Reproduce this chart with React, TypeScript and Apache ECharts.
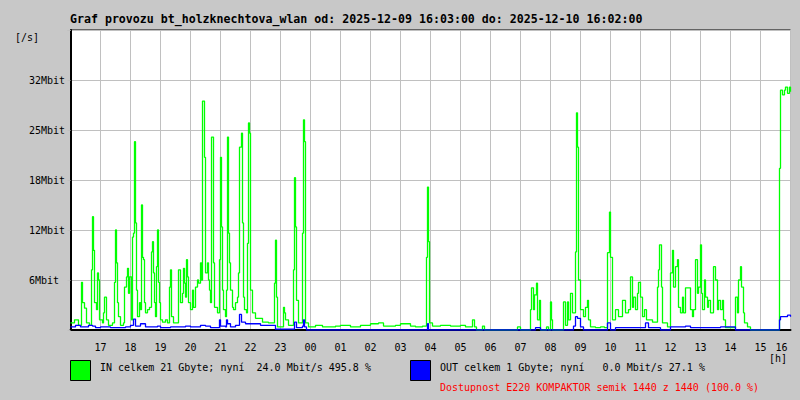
import React, { useEffect, useRef } from "react";
import * as echarts from "echarts";

// time: minutes since 2025-12-09 16:00, value: Mbit/s
const titleText =
  "Graf provozu bt_holzknechtova_wlan od: 2025-12-09 16:03:00 do: 2025-12-10 16:02:00";
const xTickLabels = ["", "17", "18", "19", "20", "21", "22", "23", "00", "01", "02", "03", "04", "05", "06", "07", "08", "09", "10", "11", "12", "13", "14", "15", "16"];
const yTickLabels = ["", "6Mbit", "12Mbit", "18Mbit", "25Mbit", "32Mbit", ""];
const legendIn = "IN celkem 21 Gbyte; nyní  24.0 Mbit/s 495.8 %";
const legendOut = "OUT celkem 1 Gbyte; nyní   0.0 Mbit/s 27.1 %";
const availability = "Dostupnost E220 KOMPAKTOR semik 1440 z 1440 (100.0 %)";

const inTraffic: [number, number][] = [
  [0, 0.9], [8, 1.3], [16, 0.6], [22, 6.1], [24, 3.5], [28, 2.8], [32, 0.9], [38, 0.6],
  [42, 7.7], [44, 14.5], [46, 10.2], [48, 3.5], [52, 2.6], [54, 7.3], [56, 6.4], [58, 1.3],
  [64, 0.9], [66, 2.2], [68, 4.2], [72, 1.3], [76, 0.6], [84, 0.9], [88, 6.1], [90, 12.8],
  [92, 8.6], [94, 3.5], [96, 1.7], [100, 0.6], [106, 0.9], [108, 5.5], [112, 6.8], [114, 7.9],
  [116, 4.7], [118, 6.8], [122, 1.3], [124, 11.9], [126, 12.4], [128, 24.1], [130, 13.7],
  [132, 5.1], [134, 1.7], [138, 3.5], [140, 2.6], [142, 16.0], [144, 9.3], [146, 9.0],
  [148, 3.5], [150, 2.2], [154, 2.6], [158, 2.9], [162, 10.0], [164, 11.3], [166, 7.3],
  [168, 3.5], [170, 1.7], [172, 8.1], [174, 12.8], [176, 6.1], [178, 3.5], [180, 1.3],
  [184, 1.0], [190, 1.3], [194, 0.9], [198, 5.5], [200, 7.7], [202, 1.7], [206, 0.9],
  [214, 0.9], [216, 7.7], [220, 3.5], [224, 4.7], [226, 7.9], [228, 6.0], [230, 4.2],
  [232, 9.0], [234, 6.8], [236, 3.5], [240, 2.6], [244, 5.1], [246, 2.9], [250, 5.5],
  [254, 6.4], [256, 6.0], [260, 8.6], [262, 6.4], [264, 29.3], [266, 29.3], [268, 22.1],
  [270, 7.3], [274, 8.6], [276, 6.4], [278, 5.1], [280, 3.5], [282, 24.7], [284, 24.7],
  [286, 8.6], [288, 2.9], [294, 2.2], [298, 9.0], [300, 22.1], [302, 13.2], [304, 5.1],
  [306, 2.6], [310, 1.7], [312, 5.1], [314, 24.7], [316, 12.4], [318, 8.6], [320, 5.1],
  [324, 2.9], [326, 2.6], [330, 3.5], [334, 4.2], [336, 7.3], [338, 23.4], [342, 25.2],
  [344, 13.7], [346, 4.2], [348, 2.6], [352, 2.2], [354, 11.1], [356, 26.5], [358, 25.2],
  [360, 5.1], [364, 2.2], [370, 1.5], [384, 1.0], [396, 0.9], [404, 0.9], [408, 6.0],
  [410, 11.5], [412, 4.2], [414, 0.4], [420, 0.4], [426, 2.9], [428, 2.2], [430, 1.3],
  [436, 0.6], [444, 0.6], [446, 7.7], [448, 19.5], [450, 13.2], [452, 3.8], [456, 0.9],
  [462, 0.9], [464, 12.4], [466, 26.9], [468, 24.1], [470, 0.9], [476, 0.4], [490, 0.6],
  [504, 0.4], [510, 0.4], [530, 0.5], [540, 0.6], [560, 0.4], [580, 0.6], [600, 0.8],
  [616, 0.9], [626, 0.5], [650, 0.6], [660, 0.8], [680, 0.5], [690, 0.4], [704, 0.5],
  [710, 0.5], [712, 9.3], [714, 18.3], [716, 11.3], [718, 0.9], [724, 0.5], [740, 0.6],
  [760, 0.5], [780, 0.6], [790, 0.4], [804, 1.3], [808, 0.4], [812, 0], [824, 0.5], [828, 0],
  [892, 0], [894, 0.4], [900, 0], [918, 0], [920, 2.6], [922, 5.4], [926, 2.6], [928, 4.5],
  [932, 6.0], [934, 1.3], [938, 3.8], [940, 0], [952, 0.4], [956, 0], [960, 3.6], [962, 1.3],
  [964, 0], [984, 0], [986, 3.6], [990, 0.6], [994, 3.6], [996, 1.3], [1000, 4.7],
  [1004, 2.2], [1010, 10.0], [1012, 27.8], [1014, 23.4], [1016, 6.4], [1020, 2.6],
  [1026, 1.7], [1030, 2.9], [1034, 3.8], [1036, 1.3], [1040, 0.4], [1050, 0.3], [1060, 0.4],
  [1068, 0.3], [1074, 9.9], [1078, 15.1], [1080, 9.3], [1084, 1.3], [1090, 2.6], [1096, 1.7],
  [1104, 3.8], [1110, 2.2], [1116, 2.6], [1120, 6.8], [1124, 2.9], [1126, 4.2], [1130, 2.6],
  [1134, 4.7], [1136, 6.1], [1140, 4.2], [1144, 1.7], [1148, 2.6], [1152, 1.3], [1164, 1.0],
  [1170, 1.0], [1174, 5.5], [1176, 7.7], [1178, 10.9], [1182, 5.5], [1184, 0.9], [1194, 0.4],
  [1200, 7.3], [1204, 10.2], [1206, 5.5], [1210, 8.1], [1214, 9.0], [1216, 2.9], [1220, 2.2],
  [1224, 4.2], [1226, 2.2], [1230, 5.4], [1236, 5.4], [1240, 2.6], [1244, 1.7], [1246, 2.6],
  [1250, 9.0], [1254, 4.7], [1256, 5.5], [1260, 10.9], [1262, 4.7], [1264, 2.6], [1268, 6.4],
  [1270, 4.2], [1274, 2.9], [1276, 3.8], [1280, 2.2], [1286, 8.1], [1290, 6.4], [1294, 2.6],
  [1296, 3.8], [1300, 2.6], [1304, 3.8], [1306, 1.3], [1310, 0.3], [1326, 0.3], [1330, 4.2],
  [1334, 2.2], [1336, 6.4], [1340, 8.1], [1342, 5.5], [1346, 2.2], [1348, 0.9], [1354, 0.4],
  [1360, 0], [1416, 0], [1418, 20.7], [1420, 30.7], [1424, 30.1], [1428, 30.7], [1430, 31.1],
  [1434, 30.3], [1438, 31.1], [1440, 30.5],
];

const outTraffic: [number, number][] = [
  [0, 0.4], [10, 0.6], [20, 0.4], [36, 0.6], [44, 0.5], [50, 0.3], [60, 0.4], [80, 0.3],
  [110, 0.4], [120, 0.6], [126, 1.4], [130, 0.5], [140, 0.8], [150, 0.4], [174, 0.5],
  [180, 0.3], [200, 0.4], [230, 0.5], [240, 0.4], [260, 0.6], [270, 0.5], [280, 0.3],
  [296, 0.3], [298, 1.3], [300, 0.5], [310, 0.4], [312, 1.3], [314, 0.8], [320, 0.4],
  [330, 0.6], [338, 2.0], [342, 1.0], [350, 0.8], [380, 0.6], [400, 0.6], [406, 0.6],
  [410, 0.1], [430, 0.1], [448, 1.0], [452, 0.3], [464, 0.5], [466, 1.3], [468, 0.4],
  [472, 0], [712, 0], [714, 0.8], [716, 0], [920, 0], [930, 0.3], [940, 0], [1006, 0.5],
  [1010, 1.7], [1014, 1.5], [1020, 0.4], [1026, 0], [1072, 0], [1074, 0.9], [1078, 0.9],
  [1080, 0], [1090, 0.3], [1140, 0.3], [1150, 0.9], [1156, 0.3], [1174, 0.3], [1180, 0],
  [1200, 0.4], [1230, 0.5], [1240, 0.3], [1300, 0.4], [1320, 0.4], [1330, 0], [1416, 0],
  [1418, 1.3], [1420, 1.7], [1430, 1.7], [1434, 1.9], [1440, 1.7],
];

const MONO = "'DejaVu Sans Mono', 'Liberation Mono', monospace";
const BG = "#c8c8c8";
const GRID = "#c0c0c0";

export default function App() {
  const ref = useRef<HTMLDivElement>(null);

  useEffect(() => {
    if (!ref.current) return;
    const chart = echarts.init(ref.current, null, { renderer: "svg" });
    const step = 6.4;
    chart.setOption({
      animation: false,
      backgroundColor: BG,
      grid: {
        left: 70.5,
        right: 9.5,
        top: 30,
        bottom: 70,
        show: true,
        backgroundColor: "#ffffff",
        borderColor: "#000000",
        borderWidth: 1,
      },
      xAxis: {
        type: "value",
        min: 0,
        max: 1440,
        interval: 60,
        axisLine: { show: true, lineStyle: { color: "#000", width: 2 } },
        axisTick: { show: false },
        splitLine: { show: true, lineStyle: { color: GRID, width: 1 } },
        axisLabel: {
          show: true,
          showMinLabel: true,
          showMaxLabel: true,
          margin: 12,
          color: "#000",
          fontFamily: MONO,
          fontSize: 10,
          formatter: (v: number) => {
            const i = Math.round(v / 60);
            const t = xTickLabels[i] ?? "";
            if (i === xTickLabels.length - 1) return "{last|" + t + "}";
            return t;
          },
          rich: {
            last: { padding: [0, 18, 0, 0], fontFamily: MONO, fontSize: 10, color: "#000" },
          },
        },
      },
      yAxis: {
        type: "value",
        min: 0,
        max: step * 6,
        interval: step,
        axisLine: { show: true, lineStyle: { color: "#000", width: 2 } },
        axisTick: { show: true, length: 3, lineStyle: { color: GRID } },
        splitLine: { show: true, lineStyle: { color: GRID, width: 1 } },
        axisLabel: {
          show: true,
          align: "left",
          margin: 41.5,
          color: "#000",
          fontFamily: MONO,
          fontSize: 10,
          formatter: (v: number) => yTickLabels[Math.round(v / step)] ?? "",
        },
      },
      series: [
        {
          type: "line",
          name: "IN",
          data: inTraffic,
          step: "end",
          symbol: "none",
          lineStyle: { color: "#00ff00", width: 1.3 },
          itemStyle: { color: "#00ff00" },
        },
        {
          type: "line",
          name: "OUT",
          data: outTraffic,
          step: "end",
          symbol: "none",
          lineStyle: { color: "#0000ff", width: 1.3 },
          itemStyle: { color: "#0000ff" },
        },
      ],
      graphic: [
        {
          type: "text",
          x: 70,
          y: 19,
          style: {
            text: titleText,
            fill: "#000",
            font: "bold 11.6px " + MONO,
            verticalAlign: "middle",
            align: "left",
          },
        },
        {
          type: "text",
          x: 15,
          y: 37,
          style: { text: "[/s]", fill: "#000", font: "10px " + MONO, verticalAlign: "middle" },
        },
        {
          type: "text",
          x: 769,
          y: 358,
          style: { text: "[h]", fill: "#000", font: "10px " + MONO, verticalAlign: "middle" },
        },
        {
          type: "rect",
          shape: { x: 70.5, y: 360.5, width: 20, height: 20 },
          style: { fill: "#00ff00", stroke: "#000", lineWidth: 1 },
        },
        {
          type: "rect",
          shape: { x: 410.5, y: 360.5, width: 20, height: 20 },
          style: { fill: "#0000ff", stroke: "#000", lineWidth: 1 },
        },
        {
          type: "text",
          x: 100,
          y: 367,
          style: { text: legendIn, fill: "#000", font: "10px " + MONO, verticalAlign: "middle" },
        },
        {
          type: "text",
          x: 440,
          y: 367,
          style: { text: legendOut, fill: "#000", font: "10px " + MONO, verticalAlign: "middle" },
        },
        {
          type: "text",
          x: 440,
          y: 387,
          style: { text: availability, fill: "#ff0000", font: "10px " + MONO, verticalAlign: "middle" },
        },
      ],
    });
    return () => chart.dispose();
  }, []);

  return (
    <div
      ref={ref}
      style={{ position: "fixed", left: 0, top: 0, width: 800, height: 400 }}
    />
  );
}
